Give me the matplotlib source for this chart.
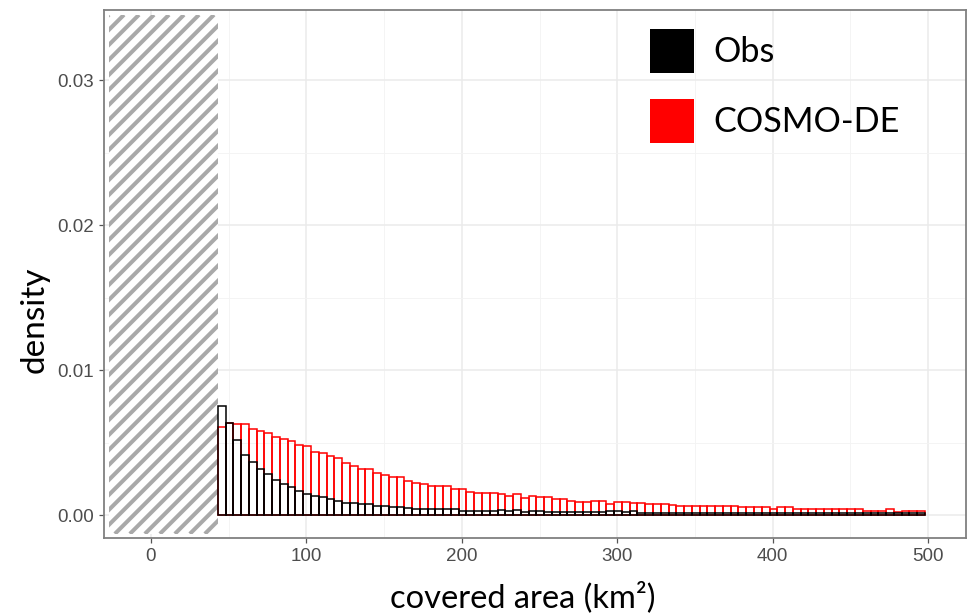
import numpy as np
import matplotlib
matplotlib.use('Agg')
import matplotlib.pyplot as plt
from matplotlib.patches import Rectangle, Patch
from matplotlib.collections import LineCollection

# histogram bins (km^2), width 5, starting at the area cut-off
binwidth = 5
bin_left = np.arange(43, 498, binwidth)

# densities, one per bin
cosmo = [0.00605, 0.00632, 0.00631, 0.00625, 0.00591, 0.00582, 0.00563, 0.00540,
         0.00522, 0.00513, 0.00480, 0.00474, 0.00437, 0.00428, 0.00405, 0.00390,
         0.00356, 0.00338, 0.00317, 0.00316, 0.00287, 0.00276, 0.00261, 0.00259,
         0.00237, 0.00223, 0.00214, 0.00203, 0.00200, 0.00199, 0.00180, 0.00178,
         0.00157, 0.00155, 0.00155, 0.00150, 0.00145, 0.00131, 0.00143, 0.00115,
         0.00133, 0.00122, 0.00121, 0.00108, 0.00107, 0.00099, 0.00088, 0.00087,
         0.00099, 0.00098, 0.00076, 0.00092, 0.00091, 0.00085, 0.00080, 0.00079,
         0.00074, 0.00073, 0.00066, 0.00064, 0.00063, 0.00064, 0.00065, 0.00064,
         0.00063, 0.00064, 0.00063, 0.00053, 0.00054, 0.00053, 0.00052, 0.00041,
         0.00053, 0.00052, 0.00039, 0.00040, 0.00039, 0.00038, 0.00039, 0.00040,
         0.00039, 0.00038, 0.00039, 0.00030, 0.00031, 0.00030, 0.00041, 0.00018,
         0.00030, 0.00031, 0.00030]
obs = [0.00754, 0.00635, 0.00515, 0.00416, 0.00368, 0.00316, 0.00285, 0.00241,
       0.00216, 0.00191, 0.00168, 0.00147, 0.00133, 0.00121, 0.00109, 0.00098,
       0.00085, 0.00081, 0.00076, 0.00075, 0.00062, 0.00061, 0.00057, 0.00056,
       0.00050, 0.00041, 0.00041, 0.00040, 0.00041, 0.00040, 0.00041, 0.00030,
       0.00031, 0.00030, 0.00030, 0.00031, 0.00036, 0.00025, 0.00036, 0.00022,
       0.00030, 0.00030, 0.00019, 0.00018, 0.00019, 0.00018, 0.00019, 0.00018,
       0.00019, 0.00018, 0.00025, 0.00025, 0.00024, 0.00025, 0.00011, 0.00011,
       0.00012, 0.00011, 0.00011, 0.00012, 0.00011, 0.00011, 0.00011, 0.00012,
       0.00011, 0.00011, 0.00011, 0.00012, 0.00011, 0.00011, 0.00011, 0.00011,
       0.00012, 0.00011, 0.00011, 0.00011, 0.00012, 0.00011, 0.00011, 0.00011,
       0.00011, 0.00012, 0.00011, 0.00011, 0.00011, 0.00011, 0.00012, 0.00011,
       0.00011, 0.00011, 0.00011]

# region below the cut-off (hatched)
cutoff_x = (-27, 43)
cutoff_y = (-0.0013, 0.0345)

xticks = [0, 100, 200, 300, 400, 500]
yticks = [0.00, 0.01, 0.02, 0.03]
ytick_labels = ['0.00', '0.01', '0.02', '0.03']

fig = plt.figure(figsize=(9.73, 6.14), dpi=100)
ax = fig.add_axes([104/973, 76/614, 862/973, 528/614])

xlim = (-30.2, 524.4)
ylim = (-0.001586, 0.034828)
ax.set_xlim(xlim)
ax.set_ylim(ylim)

# theme_bw-like grid
ax.set_xticks(xticks)
ax.set_xticks([50, 150, 250, 350, 450], minor=True)
ax.set_yticks(yticks)
ax.set_yticks([0.005, 0.015, 0.025], minor=True)
ax.grid(True, which='major', color='#EBEBEB', linewidth=1.1)
ax.grid(True, which='minor', color='#F3F3F3', linewidth=0.6)
ax.set_axisbelow(True)
ax.tick_params(which='minor', length=0)
ax.tick_params(which='major', length=3.5, width=0.9, color='#555555',
               labelsize=13.5, labelcolor='#4D4D4D', pad=3.5)
ax.set_yticklabels(ytick_labels)
for lab in ax.get_xticklabels() + ax.get_yticklabels():
    lab.set_family('Liberation Sans')
for s in ax.spines.values():
    s.set_color('#808080')
    s.set_linewidth(1.3)

# hatched block: white box with 45 degree stripes clipped to it
box = Rectangle((cutoff_x[0], cutoff_y[0]), cutoff_x[1] - cutoff_x[0],
                cutoff_y[1] - cutoff_y[0], facecolor='white', linewidth=0, zorder=1)
ax.add_patch(box)
px_x = 862 / (xlim[1] - xlim[0])      # pixels per km^2
px_y = 528 / (ylim[1] - ylim[0])      # pixels per density unit
slope = px_x / px_y
h_units = (cutoff_y[1] - cutoff_y[0]) / slope
spacing = 15 / px_x
segs = []
for c in np.arange(cutoff_x[0] - h_units, cutoff_x[1] + spacing, spacing):
    segs.append([(c, cutoff_y[0]), (c + h_units, cutoff_y[1])])
hatch = LineCollection(segs, colors='#A9A9A9', linewidths=2.9, zorder=1.5)
ax.add_collection(hatch, autolim=False)
hatch.set_clip_path(box)

ax.bar(bin_left, cosmo, width=binwidth, align='edge', facecolor='none',
       edgecolor='#FF0000', linewidth=1.1, zorder=2)
ax.bar(bin_left, obs, width=binwidth, align='edge', facecolor='none',
       edgecolor='black', linewidth=1.1, zorder=3)
ax.set_xlim(xlim)
ax.set_ylim(ylim)

ax.set_xlabel('covered area (km²)', family='Lato', fontsize=23.5)
ax.xaxis.set_label_coords((523 - 104) / 862, (538 - 581) / 528)
ax.set_ylabel('density', family='Lato', fontsize=24)
ax.yaxis.set_label_coords((50 - 104) / 862, (538 - 320) / 528)

handles = [Patch(facecolor='black', edgecolor='none'),
           Patch(facecolor='#FF0000', edgecolor='none')]
ax.legend(handles, ['Obs', 'COSMO-DE'], loc='upper left',
          bbox_to_anchor=(650/973, 1 - 29/614), bbox_transform=fig.transFigure,
          frameon=False, prop={'family': 'Lato', 'size': 24.7},
          handlelength=1.283, handleheight=1.6, handletextpad=0.55,
          labelspacing=0.76, borderpad=0, borderaxespad=0)

fig.savefig('out.png', dpi=100)
